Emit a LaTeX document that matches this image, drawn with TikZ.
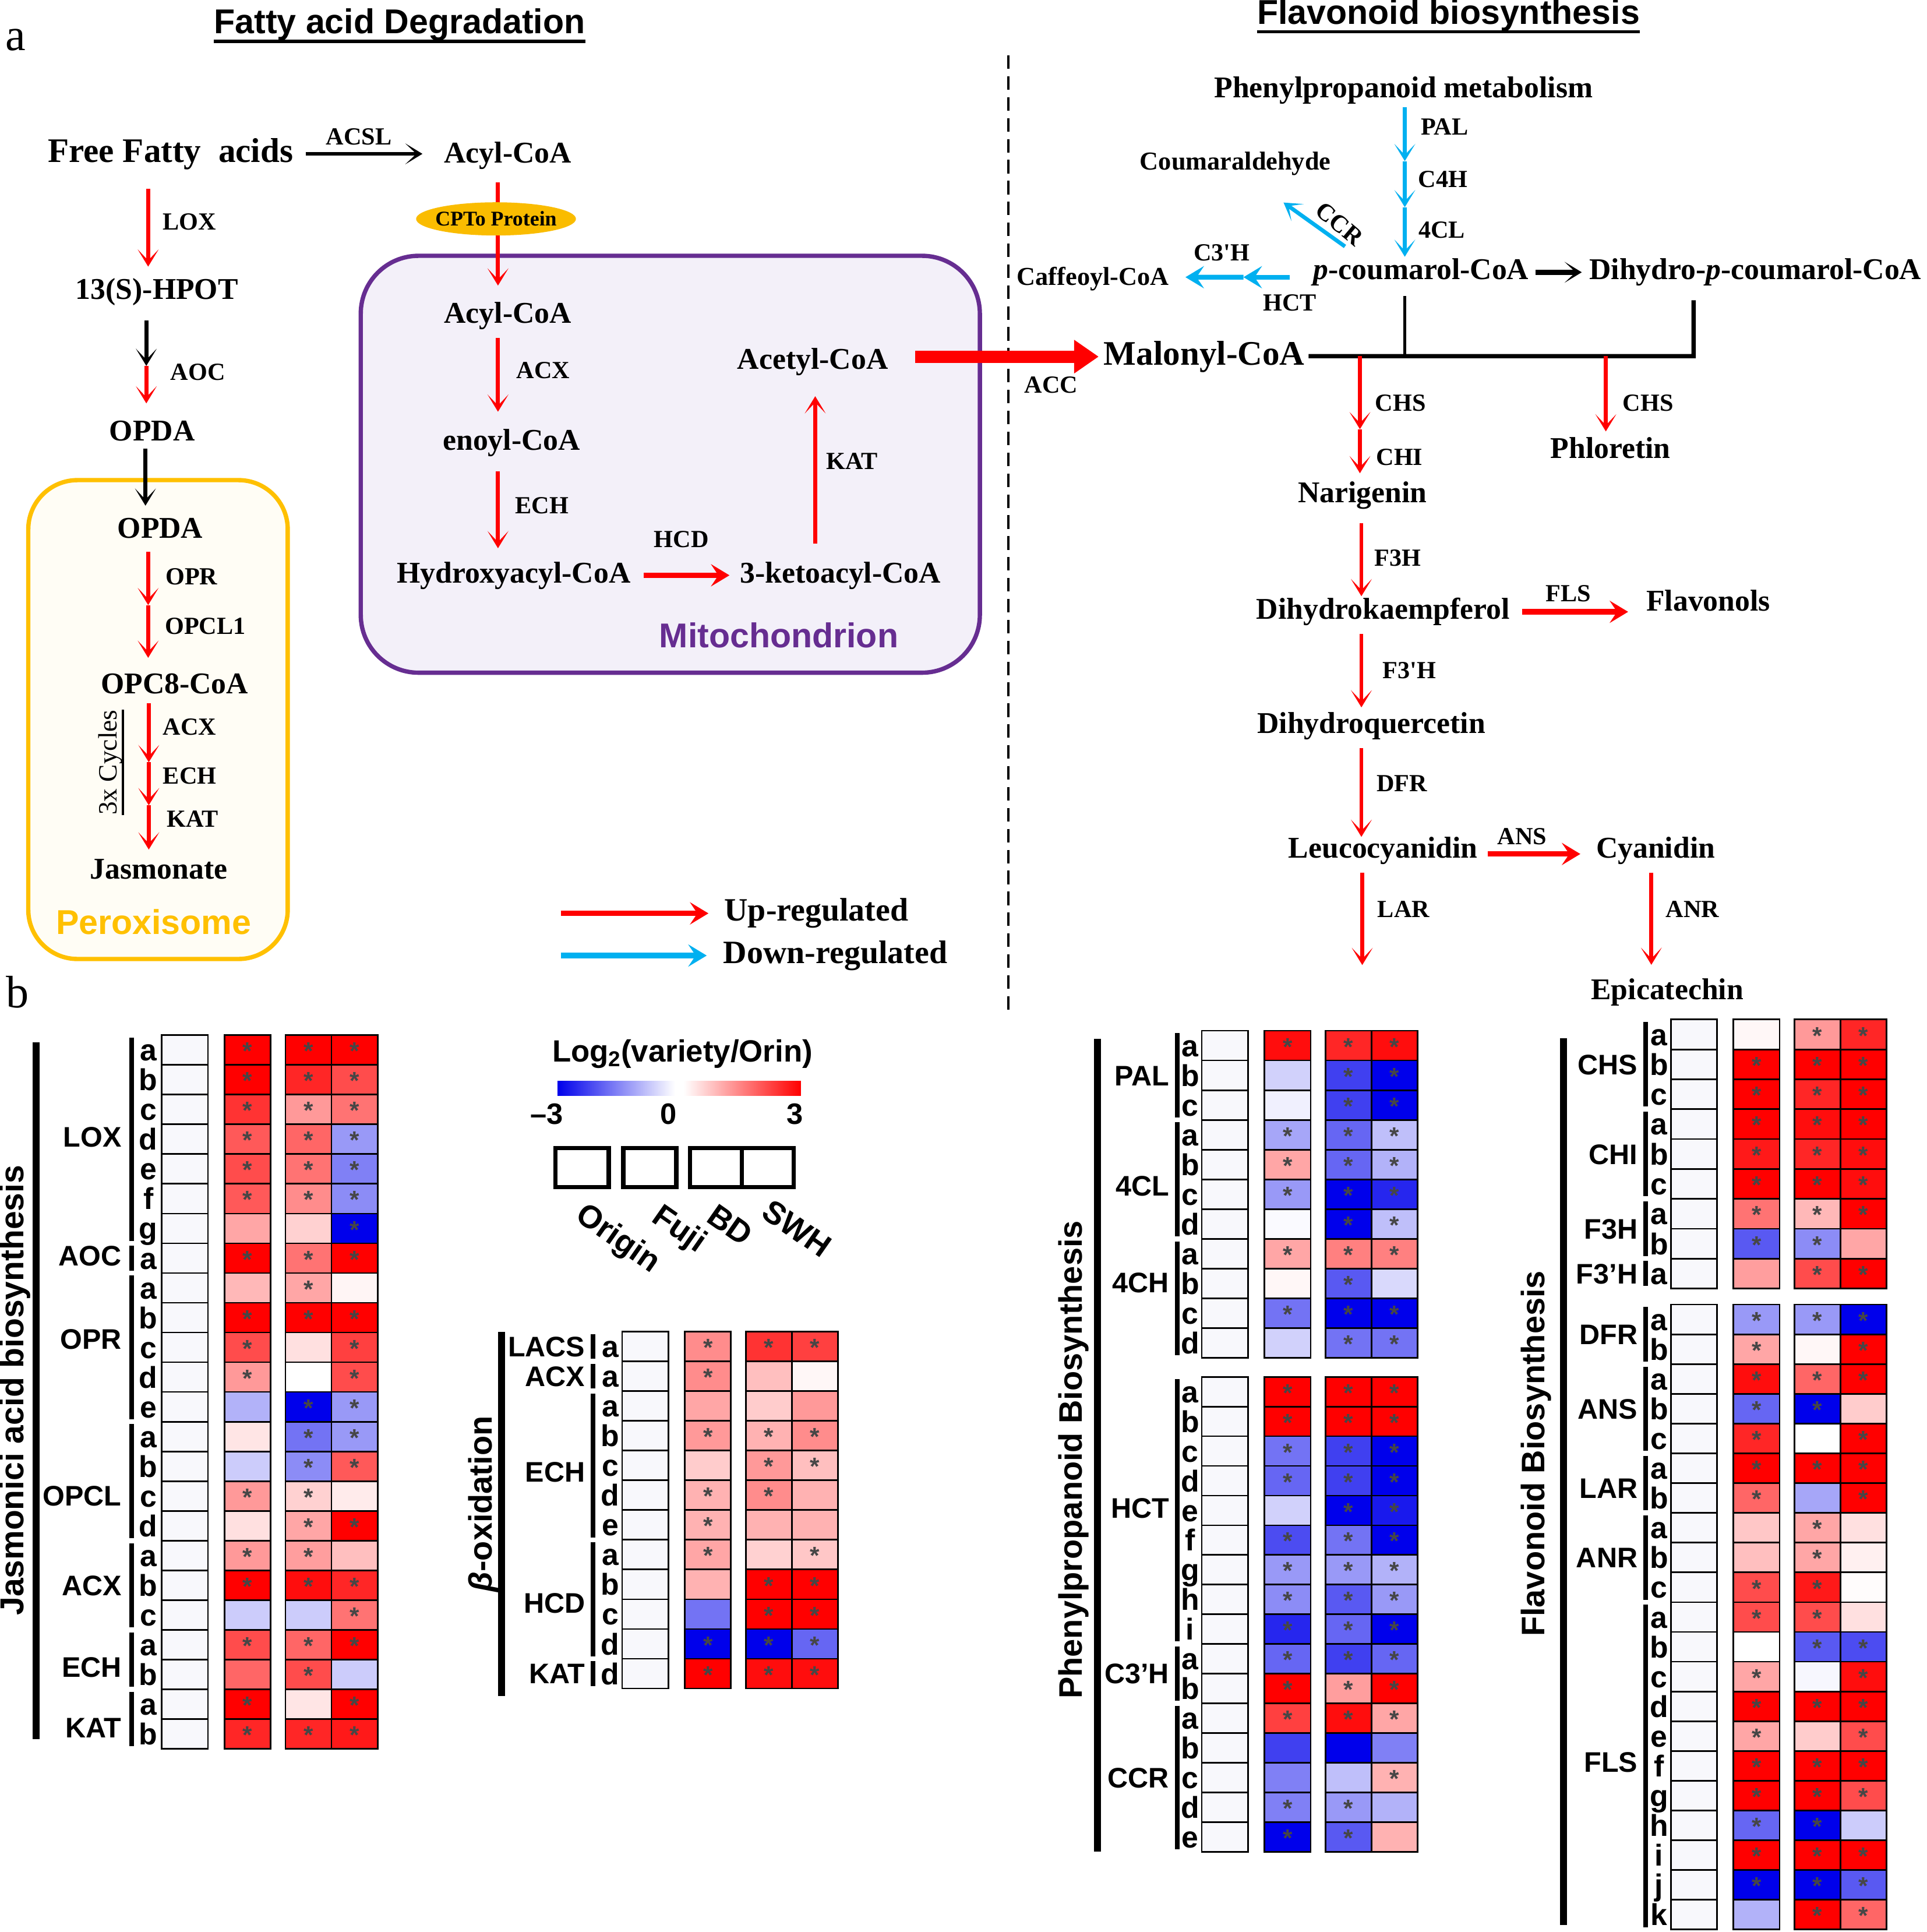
\documentclass[tikz,border=0pt]{standalone}
\usepackage{fontspec}
\setmainfont{Liberation Serif}
\setsansfont{Liberation Sans}
\usetikzlibrary{arrows.meta,shapes.geometric}
\newcounter{hmsc}\newcounter{hmgc}\newcounter{hmlc}
\newcommand\fs[1]{\fontsize{#1}{#1}\selectfont}
\definecolor{upred}{RGB}{255,0,0}
\definecolor{dnblue}{RGB}{0,176,240}
\definecolor{mitop}{RGB}{102,45,145}
\definecolor{mitofill}{RGB}{243,240,249}
\definecolor{perox}{RGB}{255,192,0}
\definecolor{peroxfill}{RGB}{255,253,245}
\definecolor{cpt}{RGB}{250,188,0}
\definecolor{hblue}{RGB}{0,0,235}
\definecolor{hred}{RGB}{255,0,0}
\definecolor{starc}{RGB}{70,70,70}
\definecolor{origc}{RGB}{248,248,252}
\newcommand\hcell[5]{%
  \pgfmathtruncatemacro\hv{#4}%
  \ifnum\hv<0 \pgfmathtruncatemacro\ha{abs(\hv)}\edef\hcol{hblue!\ha!white}\else\edef\hcol{hred!\hv!white}\fi
  \draw[cellb, fill=\hcol] ({#1},#2) rectangle ++(37.5,#3);%
  \ifnum#5=1\relax\stepcounter{hmsc}\node[starn] (st\arabic{hmsc}) at ({#1+18.75},{#2+0.5*#3+1}) {*};\fi
}
\newcommand\hmap[4]{%
  \foreach \xa/\xs/\ya/\ys/\za/\zs [count=\hmi from 0] in {#4} {%
    \pgfmathsetmacro\yy{#2+\hmi*#3}%
    \draw[cellb, fill=origc] (#1,\yy) rectangle ++(37.5,#3);%
    \hcell{#1+51}{\yy}{#3}{\xa}{\xs}%
    \hcell{#1+100.5}{\yy}{#3}{\ya}{\ys}%
    \hcell{#1+138}{\yy}{#3}{\za}{\zs}%
  }}
\newcommand\hgroup[5]{%
  \draw[line width=4pt] (\hmbx,{\hmtop+#1*\hmh+2}) -- (\hmbx,{\hmtop+(#1+#2)*\hmh-2});
  \stepcounter{hmgc}%
  \node[gene,anchor=east] (gl\arabic{hmgc}) at (\hmgx,{\hmtop+(#1+#2/2)*\hmh+#5}) {#3};
  \foreach \hmL [count=\hmk from 0] in {#4} {\stepcounter{hmlc}\node[letl] (lt\arabic{hmlc}) at (\hmlx,{\hmtop+(#1+\hmk+0.5)*\hmh}) {\hmL};}
}
\begin{document}
\begin{tikzpicture}[x=1pt,y=-1pt,
  met/.style={font=\fs{24.5}\bfseries, inner sep=0pt, text height=17pt, text depth=5pt},
  bigmet/.style={font=\fs{28}\bfseries, inner sep=0pt, text height=19.5pt, text depth=6pt},
  smet/.style={font=\fs{21}\bfseries, inner sep=0pt, text height=14.5pt, text depth=4.5pt},
  enz/.style={font=\fs{20}\bfseries, inner sep=0pt},
  leg/.style={font=\fs{26.5}\bfseries, inner sep=0pt},
  hdr/.style={font=\sffamily\bfseries\fs{28}, inner sep=0pt, text height=20pt, text depth=6pt},
  comp/.style={font=\sffamily\bfseries\fs{28}, inner sep=0pt},
  gene/.style={font=\sffamily\bfseries\fs{23}, inner sep=0pt, text height=16.5pt, text depth=0pt},
  letl/.style={font=\sffamily\bfseries\fs{24.5}, inner sep=0pt, text height=17.6pt, text depth=0pt},
  vtitle/.style={font=\sffamily\bfseries\fs{26.5}, inner sep=0pt, rotate=90},
  rlab/.style={font=\sffamily\bfseries\fs{26}, inner sep=0pt, rotate=-35},
  sca/.style={font=\sffamily\bfseries\fs{24}, inner sep=0pt},
  starn/.style={font=\sffamily\bfseries\fs{20}, text=starc, inner sep=0pt},
  cellb/.style={draw=black, line width=1.3pt},
  tipv/.style={-{Stealth[length=14pt,width=17pt,inset=9pt]}},
  ua/.style={draw=upred, line width=3.2pt, tipv},
  da/.style={draw=dnblue, line width=3.2pt, tipv},
  ba/.style={draw=black, line width=3.2pt, tipv},
  uh/.style={draw=upred, line width=4.5pt, -{Stealth[length=15pt,width=18pt,inset=6pt]}},
  dh/.style={draw=dnblue, line width=4.5pt, -{Stealth[length=15pt,width=18pt,inset=6pt]}},
]
\useasboundingbox (0,0) rectangle (1567,1571);
\fill[white] (0,0) rectangle (1567,1571);

% compartments
\draw[draw=perox, fill=peroxfill, line width=3.5pt, rounded corners=40pt] (23,390.4) rectangle (234,779.8);
\draw[draw=mitop, fill=mitofill, line width=3.5pt, rounded corners=47pt] (293.4,208) rectangle (796.9,547);

% headings
\node[hdr] (h1) at (325,20.4) {Fatty acid Degradation};
\draw[line width=2.5pt] (h1.south west) -- (h1.south east);
\node[hdr] (h2) at (1178,12.6) {Flavonoid biosynthesis};
\draw[line width=2.5pt] (h2.south west) -- (h2.south east);
\node[font=\fs{37}, inner sep=0pt] (pa) at (12.8,32.5) {a};
\node[font=\fs{37}, inner sep=0pt] (pb) at (14,806.5) {b};
\draw[line width=2.2pt, dash pattern=on 11pt off 6pt] (820,45) -- (820,827);

% left column
\node[bigmet] (ffa) at (138.7,125.1) {Free Fatty\ \ acids};
\node[met] (acyl1) at (413,126.4) {Acyl-CoA};
\node[met] (hpot) at (127.6,237.5) {13(S)-HPOT};
\node[met] (opda1) at (123.7,352.5) {OPDA};
\node[met] (opda2) at (130.3,431.5) {OPDA};
\node[met] (opc8) at (142,558) {OPC8-CoA};
\node[met] (jas) at (129.2,708.5) {Jasmonate};
\node[comp, text=perox] (perlbl) at (125,749.6) {Peroxisome};
\node[font=\fs{21.5}, inner sep=0pt, rotate=90] (cyc) at (90,620) {3x Cycles};
\draw[line width=1.5pt] (cyc.south west) -- (cyc.south east);
\node[enz] (eacsl) at (291.8,111) {ACSL};
\node[enz] (elox) at (154,180.6) {LOX};
\node[enz] (eaoc) at (161,302.6) {AOC};
\node[enz] (eopr) at (155.8,469) {OPR};
\node[enz] (eopcl) at (167,509) {OPCL1};
\node[enz] (eacx1) at (154.3,591) {ACX};
\node[enz] (eech1) at (154.3,631) {ECH};
\node[enz] (ekat1) at (156.8,666) {KAT};

% mitochondrion
\node[met] (acyl2) at (413,256.7) {Acyl-CoA};
\node[met] (enoyl) at (416,360) {enoyl-CoA};
\node[met] (hydroxy) at (417.8,467.8) {Hydroxyacyl-CoA};
\node[met] (keto) at (683.5,467.8) {3-ketoacyl-CoA};
\node[met] (acetyl) at (661,294) {Acetyl-CoA};
\node[comp, text=mitop] (mitolbl) at (633.4,516.8) {Mitochondrion};
\node[enz] (eacx2) at (441.7,301.4) {ACX};
\node[enz] (eech2) at (440.8,411.3) {ECH};
\node[enz] (ehcd) at (554.2,438.8) {HCD};
\node[enz] (ekat2) at (693,375) {KAT};
\node[enz] (eacc) at (855,313) {ACC};

% flavonoid pathway
\node[met] (phenyl) at (1141.5,73.5) {Phenylpropanoid metabolism};
\node[smet] (coum) at (1004.7,133.2) {Coumaraldehyde};
\node[met] (pcoum) at (1155.7,221.4) {\textit{p}-coumarol-CoA};
\node[met] (dihydro) at (1427.6,221.4) {Dihydro-\textit{p}-coumarol-CoA};
\node[smet] (caff) at (888.9,226.8) {Caffeoyl-CoA};
\node[bigmet] (malonyl) at (979.4,290.2) {Malonyl-CoA};
\node[met] (phlor) at (1309.8,366.4) {Phloretin};
\node[met] (narig) at (1108,402.5) {Narigenin};
\node[met] (dhk) at (1124.8,497.5) {Dihydrokaempferol};
\node[met] (flav) at (1389.3,490.7) {Flavonols};
\node[met] (dhq) at (1115.3,590.4) {Dihydroquercetin};
\node[met] (leuco) at (1124.8,691.7) {Leucocyanidin};
\node[met] (cyan) at (1346.5,691.7) {Cyanidin};
\node[met] (epi) at (1356,806.5) {Epicatechin};
\node[enz] (epal) at (1174.9,103) {PAL};
\node[enz] (ec4h) at (1173.5,145.7) {C4H};
\node[enz] (e4cl) at (1172.6,187.2) {4CL};
\node[enz, rotate=-40] (eccr) at (1089.4,181.9) {CCR};
\node[enz] (ec3h) at (993.7,205.4) {C3\textquotesingle H};
\node[enz] (ehct) at (1049,246) {HCT};
\node[enz] (echs1) at (1139.1,327.6) {CHS};
\node[enz] (echi) at (1138.2,371.7) {CHI};
\node[enz] (echs2) at (1340.3,327.6) {CHS};
\node[enz] (ef3h) at (1136.8,453.8) {F3H};
\node[enz] (efls) at (1275.5,482.4) {FLS};
\node[enz] (ef3ph) at (1146.2,545.4) {F3\textquotesingle H};
\node[enz] (edfr) at (1140.2,637) {DFR};
\node[enz] (eans) at (1237.9,680) {ANS};
\node[enz] (elar) at (1141.5,739.5) {LAR};
\node[enz] (eanr) at (1376.5,739.5) {ANR};

% free ends
\coordinate (aocm) at (119,297.5);
\coordinate (oprm) at (120.5,492);
\coordinate (cyc1) at (121,619.8);
\coordinate (cyc2) at (121,654.8);
\coordinate (pal1) at (1142.5,131);
\coordinate (pal2) at (1142.5,168.5);
\coordinate (hctm) at (1011.3,225.4);
\coordinate (mc) at (1142.5,289.6);
\coordinate (mr) at (1377.4,289.6);
\coordinate (chs1) at (1106,289.6);
\coordinate (chim) at (1106,349);
\coordinate (chs2) at (1306,289.6);
\coordinate (larend) at (1107.9,784.7);
\coordinate (upstart) at (456,742.7);
\coordinate (dnstart) at (456,777);

% left arrows
\draw[ba, shorten <=10pt, shorten >=17.5pt] (ffa.east) -- (ffa.east -| acyl1.west);
\draw[ua] ([xshift=-18.2pt,yshift=-15.4pt]ffa.south) -- ([xshift=-7.1pt,yshift=9.5pt]hpot.north);
\draw[ba] ([xshift=-8.6pt,yshift=-12pt]hpot.south) -- (aocm);
\draw[ua] (aocm) -- ([xshift=-4.7pt,yshift=13.3pt]opda1.north);
\draw[ba] ([xshift=-5.4pt,yshift=-1.2pt]opda1.south) -- ([xshift=-12pt,yshift=9.1pt]opda2.north);
\draw[ua] ([xshift=-9.8pt,yshift=-6pt]opda2.south) -- (oprm);
\draw[ua] (oprm) -- ([xshift=-21.5pt,yshift=11.9pt]opc8.north);
\draw[ua] ([xshift=-21pt,yshift=-2.4pt]opc8.south) -- (cyc1);
\draw[ua] (cyc1) -- (cyc2);
\draw[ua] (cyc2) -- ([xshift=-8.2pt,yshift=6.5pt]jas.north);

% mito arrows
\draw[ua] ([xshift=-8pt,yshift=-10.6pt]acyl1.south) -- ([xshift=-8pt,yshift=13.3pt]acyl2.north);
\draw[ua] ([xshift=-8pt,yshift=-6.9pt]acyl2.south) -- ([xshift=-11pt,yshift=14pt]enoyl.north);
\draw[ua] ([xshift=-11pt,yshift=-12pt]enoyl.south) -- ([xshift=-12.8pt,yshift=10.8pt]hydroxy.north);
\draw[uh, shorten <=10.5pt, shorten >=8.4pt] (hydroxy.east) -- (hydroxy.east -| keto.west);
\draw[ua] ([xshift=-20.5pt,yshift=14.5pt]keto.north) -- ([xshift=2pt,yshift=-17pt]acetyl.south);
\draw[draw=upred, line width=10pt, -{Triangle[length=20pt,width=26pt]}, shorten <=22pt, shorten >=4pt] ([yshift=4pt]acetyl.east) -- ([yshift=4pt]acetyl.east -| malonyl.west);
\node[ellipse, fill=cpt, minimum width=130pt, minimum height=27pt, inner sep=0pt] (cpt) at (403.4,178) {};
\node[font=\fs{17}\bfseries, inner sep=0pt] (cpttext) at (cpt.center) {CPTo Protein};

% flavonoid arrows
\draw[da] ([xshift=1pt,yshift=-2.5pt]phenyl.south) -- (pal1);
\draw[da] (pal1) -- (pal2);
\draw[da] (pal2) -- ([xshift=-13.2pt,yshift=1.4pt]pcoum.north);
\draw[da] ([xshift=25.9pt,yshift=9.8pt]pcoum.north west) -- ([xshift=-38.6pt,yshift=-21.8pt]coum.south east);
\draw[ba, line width=4pt, shorten <=5.6pt, shorten >=6pt] (pcoum.east) -- (pcoum.east -| dihydro.west);
\draw[dh, line width=4pt] ([xshift=-19pt,yshift=-4pt]pcoum.west) -- (hctm);
\draw[dh, line width=4pt] (hctm) -- ([xshift=13.2pt,yshift=1.4pt]caff.east);
\draw[line width=3.5pt] ([xshift=3pt,yshift=0.6pt]malonyl.east) -- (mr) -- ([xshift=-50.2pt,yshift=-11.6pt]dihydro.south);
\draw[line width=2.5pt] ([xshift=-13.2pt,yshift=-8.3pt]pcoum.south) -- (mc);
\draw[ua] (chs1) -- (chim);
\draw[ua] (chim) -- ([xshift=-2pt,yshift=6.5pt]narig.north);
\draw[ua] (chs2) -- ([xshift=-3.8pt,yshift=4.4pt]phlor.north);
\draw[ua] ([xshift=-0.8pt,yshift=-11.5pt]narig.south) -- ([xshift=-17.6pt,yshift=1.5pt]dhk.north);
\draw[uh, shorten <=10pt, shorten >=14.6pt] (dhk.east) -- (dhk.east -| flav.west);
\draw[ua] ([xshift=-17.6pt,yshift=-6.8pt]dhk.south) -- ([xshift=-8.1pt,yshift=4pt]dhq.north);
\draw[ua] ([xshift=-8.1pt,yshift=-6.9pt]dhq.south) -- ([xshift=-17.6pt]leuco.north);
\draw[uh, shorten <=8pt, shorten >=12.7pt] ([yshift=-2.7pt]leuco.east) -- ([yshift=-2.7pt]leuco.east -| cyan.west);
\draw[ua] ([xshift=-16.9pt,yshift=-6.7pt]leuco.south) -- (larend);
\draw[ua] ([xshift=-3.5pt,yshift=-6.7pt]cyan.south) -- ([xshift=-13pt,yshift=10.8pt]epi.north);

% legend arrows
\node[leg] (uplbl) at (664,742.7) {Up-regulated};
\node[leg] (dnlbl) at (679.4,777) {Down-regulated};
\draw[uh, shorten >=12.8pt] (upstart) -- (upstart -| uplbl.west);
\draw[dh, shorten >=13.4pt] (dnstart) -- (dnstart -| dnlbl.west);

% heatmap legend
\node[font=\sffamily\bfseries\fs{25}, inner sep=0pt] (logt) at (555,857) {Log\textsubscript{2}(variety/Orin)};
\shade[left color=hblue, right color=white] (453.4,879) rectangle (549,891);
\shade[left color=white, right color=hred] (556,879) rectangle (651.3,891);
\node[sca] (sm3) at (444.6,906) {–3};
\node[sca] (s0) at (543.5,906) {0};
\node[sca] (s3) at (646.6,906) {3};
\draw[line width=3.5pt] (451.8,933.5) rectangle (495,965.3);
\draw[line width=3.5pt] (507,933.5) rectangle (550,965.3);
\draw[line width=3.5pt] (561.3,933.5) rectangle (645.5,965.3);
\draw[line width=3.5pt] (603.4,933.5) -- (603.4,965.3);
\node[rlab] (lorig) at (502,1008) {Origin};
\node[rlab] (lfuji) at (551.8,1000.4) {Fuji};
\node[rlab] (lbd) at (594,996) {BD};
\node[rlab] (lswh) at (648.2,998.9) {SWH};

% heatmap 1: jasmonic acid
\hmap{131.6}{841.7}{24.18}{100/1/100/1/100/1, 100/1/85/1/70/1, 80/1/40/1/55/1, 65/1/60/1/-40/1, 70/1/55/1/-50/1, 65/1/45/1/-45/1, 35/0/18/0/-100/1, 100/1/55/1/100/1, 28/0/35/1/4/0, 100/1/100/1/100/1, 70/1/12/0/75/1, 40/1/0/0/70/1, -30/0/-100/1/-40/1, 10/0/-55/1/-40/1, -20/0/-45/1/65/1, 40/1/18/1/8/0, 12/0/35/1/100/1, 40/1/38/1/25/0, 100/1/95/1/85/1, -20/0/-20/0/55/1, 70/1/60/1/100/1, 60/0/70/1/-20/0, 100/1/10/0/100/1, 85/1/85/1/90/1}
\def\hmbx{107}\def\hmlx{120.7}\def\hmgx{99}\def\hmtop{841.7}\def\hmh{24.18}
\hgroup{0}{7}{LOX}{a,b,c,d,e,f,g}{-2}
\hgroup{7}{1}{AOC}{a}{-2}
\hgroup{8}{5}{OPR}{a,b,c,d,e}{-7}
\hgroup{13}{4}{OPCL}{a,b,c,d}{12}
\hgroup{17}{3}{ACX}{a,b,c}{0}
\hgroup{20}{2}{ECH}{a,b}{6}
\hgroup{22}{2}{KAT}{a,b}{7}
\draw[line width=5.5pt] (29.5,847.5) -- (29.5,1414.3);
\node[vtitle, font=\sffamily\bfseries\fs{27}] (t1) at (12,1130.5) {Jasmonici acid biosynthesis};

% heatmap 2: beta-oxidation
\hmap{506}{1082.8}{24.18}{45/1/80/1/75/1, 45/1/25/0/3/0, 35/0/20/0/40/0, 40/1/30/1/45/1, 20/0/40/1/25/1, 30/1/45/1/30/0, 30/1/30/0/30/0, 35/1/18/0/22/1, 30/0/100/1/100/1, -55/0/100/1/100/1, -100/1/-100/1/-60/1, 100/1/95/1/95/1}
\def\hmbx{482.3}\def\hmlx{496.4}\def\hmgx{476}\def\hmtop{1082.8}\def\hmh{24.18}
\hgroup{0}{1}{LACS}{a}{0}
\hgroup{1}{1}{ACX}{a}{0}
\hgroup{2}{5}{ECH}{a,b,c,d,e}{5}
\hgroup{7}{4}{HCD}{a,b,c,d}{3}
\hgroup{11}{1}{KAT}{d}{0}
\draw[line width=5.5pt] (408,1083) -- (408,1379);
\node[vtitle] (t2) at (393,1223) {\textit{β}-oxidation};

% heatmap 3: phenylpropanoid
\hmap{977.4}{838.1}{24.19}{95/1/85/1/95/1, -18/0/-75/1/-100/1, -6/0/-75/1/-100/1, -35/1/-60/1/-25/1, 35/1/-60/1/-30/1, -40/1/-100/1/-85/1, -2/0/-100/1/-25/1, 35/1/50/1/50/1, 3/0/-65/1/-15/0, -55/1/-100/1/-100/1, -18/0/-55/1/-55/1}
\hmap{977.4}{1119.6}{24.13}{100/1/100/1/100/1, 100/1/100/1/100/1, -55/1/-75/1/-100/1, -60/1/-75/1/-100/1, -18/0/-100/1/-90/1, -70/1/-55/1/-100/1, -40/1/-40/1/-30/1, -45/1/-65/1/-40/1, -85/1/-60/1/-100/1, -60/1/-75/1/-60/1, 100/1/38/1/100/1, 75/1/95/1/35/1, -75/0/-100/0/-50/0, -50/0/-25/0/30/1, -50/1/-40/1/-30/0, -100/1/-65/1/30/0}
\def\hmbx{957.5}\def\hmlx{967.8}\def\hmgx{951}\def\hmtop{838.1}\def\hmh{24.19}
\hgroup{0}{3}{PAL}{a,b,c}{0}
\hgroup{3}{4}{4CL}{a,b,c,d}{5}
\hgroup{7}{4}{4CH}{a,b,c,d}{-13}
\def\hmtop{1119.6}\def\hmh{24.13}
\hgroup{0}{9}{HCT}{a,b,c,d,e,f,g,h,i}{-2}
\hgroup{9}{2}{C3'H}{a,b}{0}
\hgroup{11}{5}{CCR}{a,b,c,d,e}{0}
\draw[line width=5.5pt] (892.5,844.8) -- (892.5,1505.6);
\node[vtitle] (t3) at (873,1187) {Phenylpropanoid Biosynthesis};

% heatmap 4: flavonoid
\hmap{1358.8}{829}{24.3}{3/0/40/1/85/1, 100/1/100/1/100/1, 100/1/85/1/100/1, 100/1/95/1/100/1, 90/1/85/1/95/1, 100/1/100/1/95/1, 55/1/28/1/100/1, -65/1/-45/1/35/0, 38/0/70/1/100/1}
\hmap{1358.8}{1060.8}{24.2}{-40/1/-40/1/-100/1, 35/1/3/0/100/1, 95/1/60/1/100/1, -60/1/-100/1/20/0, 85/1/0/0/100/1, 100/1/100/1/100/1, 60/1/-35/0/100/1, 22/0/35/1/12/0, 25/0/35/1/6/0, 70/1/90/1/1/0, 70/1/70/1/12/0, 0/0/-65/1/-70/1, 35/1/-3/0/95/1, 100/1/100/1/100/1, 35/1/20/0/70/1, 100/1/100/1/100/1, 100/1/100/1/70/1, -60/1/-100/1/-20/0, 100/1/100/1/100/1, -100/1/-100/1/-65/1, -30/0/100/1/60/1}
\def\hmbx{1338.3}\def\hmlx{1349.3}\def\hmgx{1332}\def\hmtop{829}\def\hmh{24.3}
\hgroup{0}{3}{CHS}{a,b,c}{0}
\hgroup{3}{3}{CHI}{a,b,c}{0}
\hgroup{6}{2}{F3H}{a,b}{0}
\hgroup{8}{1}{F3'H}{a}{0}
\def\hmtop{1060.8}\def\hmh{24.2}
\hgroup{0}{2}{DFR}{a,b}{0}
\hgroup{2}{3}{ANS}{a,b,c}{0}
\hgroup{5}{2}{LAR}{a,b}{4}
\hgroup{7}{3}{ANR}{a,b,c}{0}
\hgroup{10}{11}{FLS}{a,b,c,d,e,f,g,h,i,j,k}{-3}
\draw[line width=5.5pt] (1271.5,844.3) -- (1271.5,1565.3);
\node[vtitle] (t4) at (1249.5,1182) {Flavonoid Biosynthesis};
\end{tikzpicture}
\end{document}
